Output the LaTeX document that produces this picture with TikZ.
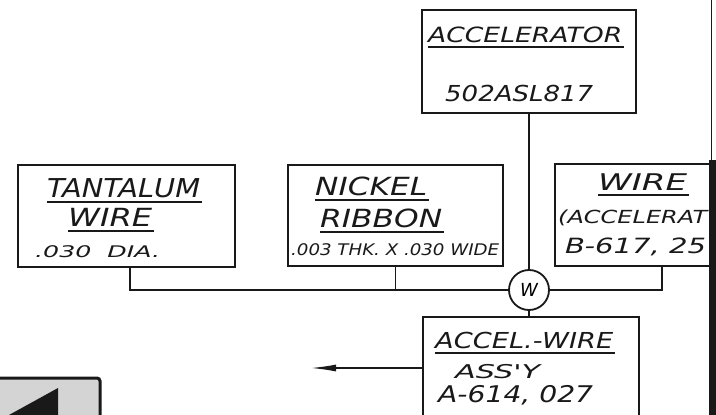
\documentclass[tikz,border=0pt]{standalone}
\usepackage{fontspec}
\usepackage{graphicx}
\newfontfamily\hand{DejaVu Sans}
\usetikzlibrary{arrows.meta,positioning,calc}
\definecolor{ink}{RGB}{25,25,25}
\definecolor{scan}{RGB}{212,212,212}
\tikzset{
  part/.style={draw=ink,line width=1.8pt,inner sep=0pt},
  lbl/.style={inner sep=0pt,anchor=base west,text=ink,font=\hand\itshape},
  uline/.style={ink,line width=1.4pt},
  link/.style={ink,line width=1.8pt},
  weld/.style={circle,draw=ink,line width=1.8pt,fill=white,minimum size=40pt,inner sep=0pt,
    font=\hand\itshape\fontsize{18}{18}\selectfont},
  outarr/.style={ink,line width=1.8pt,-{Latex[length=26pt,width=7pt]}},
}
% hand lettering: width, size, text
\newcommand{\hw}[3]{\resizebox{#1pt}{\height}{\fontsize{#2}{#2}\selectfont #3}}

\begin{document}
\begin{tikzpicture}[x=1pt,y=-1pt]
  \useasboundingbox (0,0) rectangle (716,415);
  \clip (0,0) rectangle (716,415);
  % parts
  \node[part,minimum width=214pt,minimum height=103pt] (acc) at (529,61.5) {};
  \node[part,minimum width=217pt,minimum height=102pt] (tan) at (126.5,216) {};
  \node[part,minimum width=215pt,minimum height=101pt] (nick) at (395.5,215.5) {};
  \node[part,minimum width=157pt,minimum height=102pt] (wire) at (633.5,215) {};
  \node[part,minimum width=216pt,minimum height=110pt] (asy) at (531,372) {};
  % lettering
  \node[lbl] (accT) at (428,42) {\hw{194}{21}{ACCELERATOR}};
  \node[lbl] (accN) at (445,101) {\hw{148}{22}{502ASL817}};
  \node[lbl] (tanT) at (47,197) {\hw{153}{26}{TANTALUM}};
  \node[lbl] (tanW) at (68,226) {\hw{84}{25}{WIRE}};
  \node[lbl] (tanD) at (35,257) {\hw{125}{16}{.030\ \ DIA.}};
  \node[lbl] (nicT) at (315,195) {\hw{112}{25}{NICKEL}};
  \node[lbl] (nicR) at (320,227) {\hw{122}{25}{RIBBON}};
  \node[lbl] (nicD) at (291,255) {\hw{208}{16}{.003 THK. X .030 WIDE}};
  \node[lbl] (wirT) at (598,190) {\hw{89}{23}{WIRE}};
  \node[lbl] (wirA) at (558,223) {\hw{149}{18}{(ACCELERAT}};
  \node[lbl] (wirN) at (565,253) {\hw{141}{21}{B-617, 25}};
  \node[lbl] (asyT) at (435,348) {\hw{178}{22}{ACCEL.-WIRE}};
  \node[lbl] (asyA) at (455,378) {\hw{85}{19}{ASS'Y}};
  \node[lbl] (asyN) at (438,402) {\hw{155}{23}{A-614, 027}};
  \foreach \n in {accT,tanT,tanW,nicT,nicR,wirT,asyT}
    \draw[uline] ($(\n.base west)+(0,5)$) -- ($(\n.base east)+(2,5)$);
  % weld and links
  \node[weld] (w) at (529,290) {W};
  \draw[link] (acc) -- (w);
  \draw[link] ($(tan.south)+(3.5,0)$) |- (w.west);
  \draw[link] (nick.south) -- (nick.south |- w.west);
  \draw[link] ($(wire.south)+(28.5,0)$) |- (w.east);
  \draw[link] (w.south) -- (w.south |- asy.north);
  \coordinate (out) at (310,368);
  \draw[outarr] (asy.west |- out) -- (out);
  % sheet edge and corner mark
  \draw[ink,line width=0.8pt] (711,0) -- (711,160);
  \fill[ink] (709,160) rectangle (716,415);
  \fill[scan] (0,378) rectangle (100,415);
  \draw[ink,line width=3pt,rounded corners=3pt] (-2,378) -- (100,378) -- (100,418);
  \fill[ink] (9,415) -- (58,388) -- (58,415) -- cycle;
\end{tikzpicture}
\end{document}
